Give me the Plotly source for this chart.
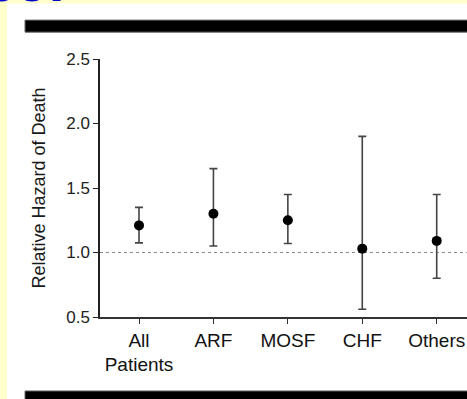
import plotly.graph_objects as go

categories = ["All<br>Patients", "ARF", "MOSF", "CHF", "Others"]
hazard = [1.21, 1.30, 1.25, 1.03, 1.09]
ci_upper = [1.35, 1.65, 1.45, 1.90, 1.45]
ci_lower = [1.075, 1.05, 1.07, 0.56, 0.80]
y_ticks = [0.5, 1.0, 1.5, 2.0, 2.5]
y_tick_labels = ["0.5", "1.0", "1.5", "2.0", "2.5"]
reference_value = 1.0

W, H = 467, 399
L, R, T, B = 100, 0, 59.3, 82.3
pw, ph = W - L - R, H - T - B

def px(x):
    return (x - L) / pw

def py(y):
    return (H - B - y) / ph

fig = go.Figure()
fig.add_trace(go.Scatter(
    x=list(range(len(categories))), y=hazard, mode="markers",
    marker=dict(color="black", size=10),
    error_y=dict(type="data", symmetric=False,
                 array=[u - h for u, h in zip(ci_upper, hazard)],
                 arrayminus=[h - l for h, l in zip(hazard, ci_lower)],
                 color="#444444", thickness=1.6, width=4),
    cliponaxis=False, showlegend=False,
))

shapes = [
    # white panel
    dict(type="rect", xref="paper", yref="paper", x0=px(7), x1=px(470), y0=py(4), y1=py(402),
         fillcolor="white", line=dict(width=0), layer="below"),
    # top black bar
    dict(type="rect", xref="paper", yref="paper", x0=px(25), x1=px(470), y0=py(20.5), y1=py(32.5),
         fillcolor="black", line=dict(color="#666666", width=1), layer="above"),
    # bottom black bar
    dict(type="rect", xref="paper", yref="paper", x0=px(25), x1=px(470), y0=py(390.5), y1=py(402),
         fillcolor="black", line=dict(color="#666666", width=1), layer="above"),
    # reference line
    dict(type="line", xref="paper", yref="y", x0=0, x1=1, y0=reference_value, y1=reference_value,
         line=dict(color="#8a8a8a", width=1.2, dash="dot"), layer="below"),
]

fig.update_layout(
    width=W, height=H,
    margin=dict(l=L, r=R, t=T, b=B, pad=0),
    paper_bgcolor="#FFFFCC", plot_bgcolor="white",
    font=dict(family="Liberation Sans, Arial, sans-serif", color="#1a1a1a"),
    shapes=shapes,
    annotations=[dict(text="<b>ce:</b>", xref="paper", yref="paper",
                      x=px(68), y=py(15.5), xanchor="right", yanchor="bottom",
                      showarrow=False, font=dict(size=56, color="#0000CC",
                                                 family="Liberation Sans, Arial, sans-serif"))],
    xaxis=dict(range=[-0.524, 4.407], tickvals=list(range(len(categories))), ticktext=categories,
               showgrid=False, zeroline=False, showline=True, linecolor="#333333", linewidth=1.5,
               ticks="outside", ticklen=5, tickwidth=1.2, tickcolor="#333333",
               tickfont=dict(size=19, color="#111111")),
    yaxis=dict(range=[0.5, 2.5], tickvals=y_ticks, ticktext=y_tick_labels,
               showgrid=False, zeroline=False, showline=True, linecolor="#222222", linewidth=1.5,
               ticks="outside", ticklen=5, tickwidth=1.2, tickcolor="#222222",
               tickfont=dict(size=17, color="#222222"),
               title=dict(text="Relative Hazard of Death", font=dict(size=18, color="#1a1a1a"), standoff=16)),
)

fig.write_html("out.html", config={"displayModeBar": False},
               post_script="document.body.style.margin='0';document.body.style.overflow='hidden';")
